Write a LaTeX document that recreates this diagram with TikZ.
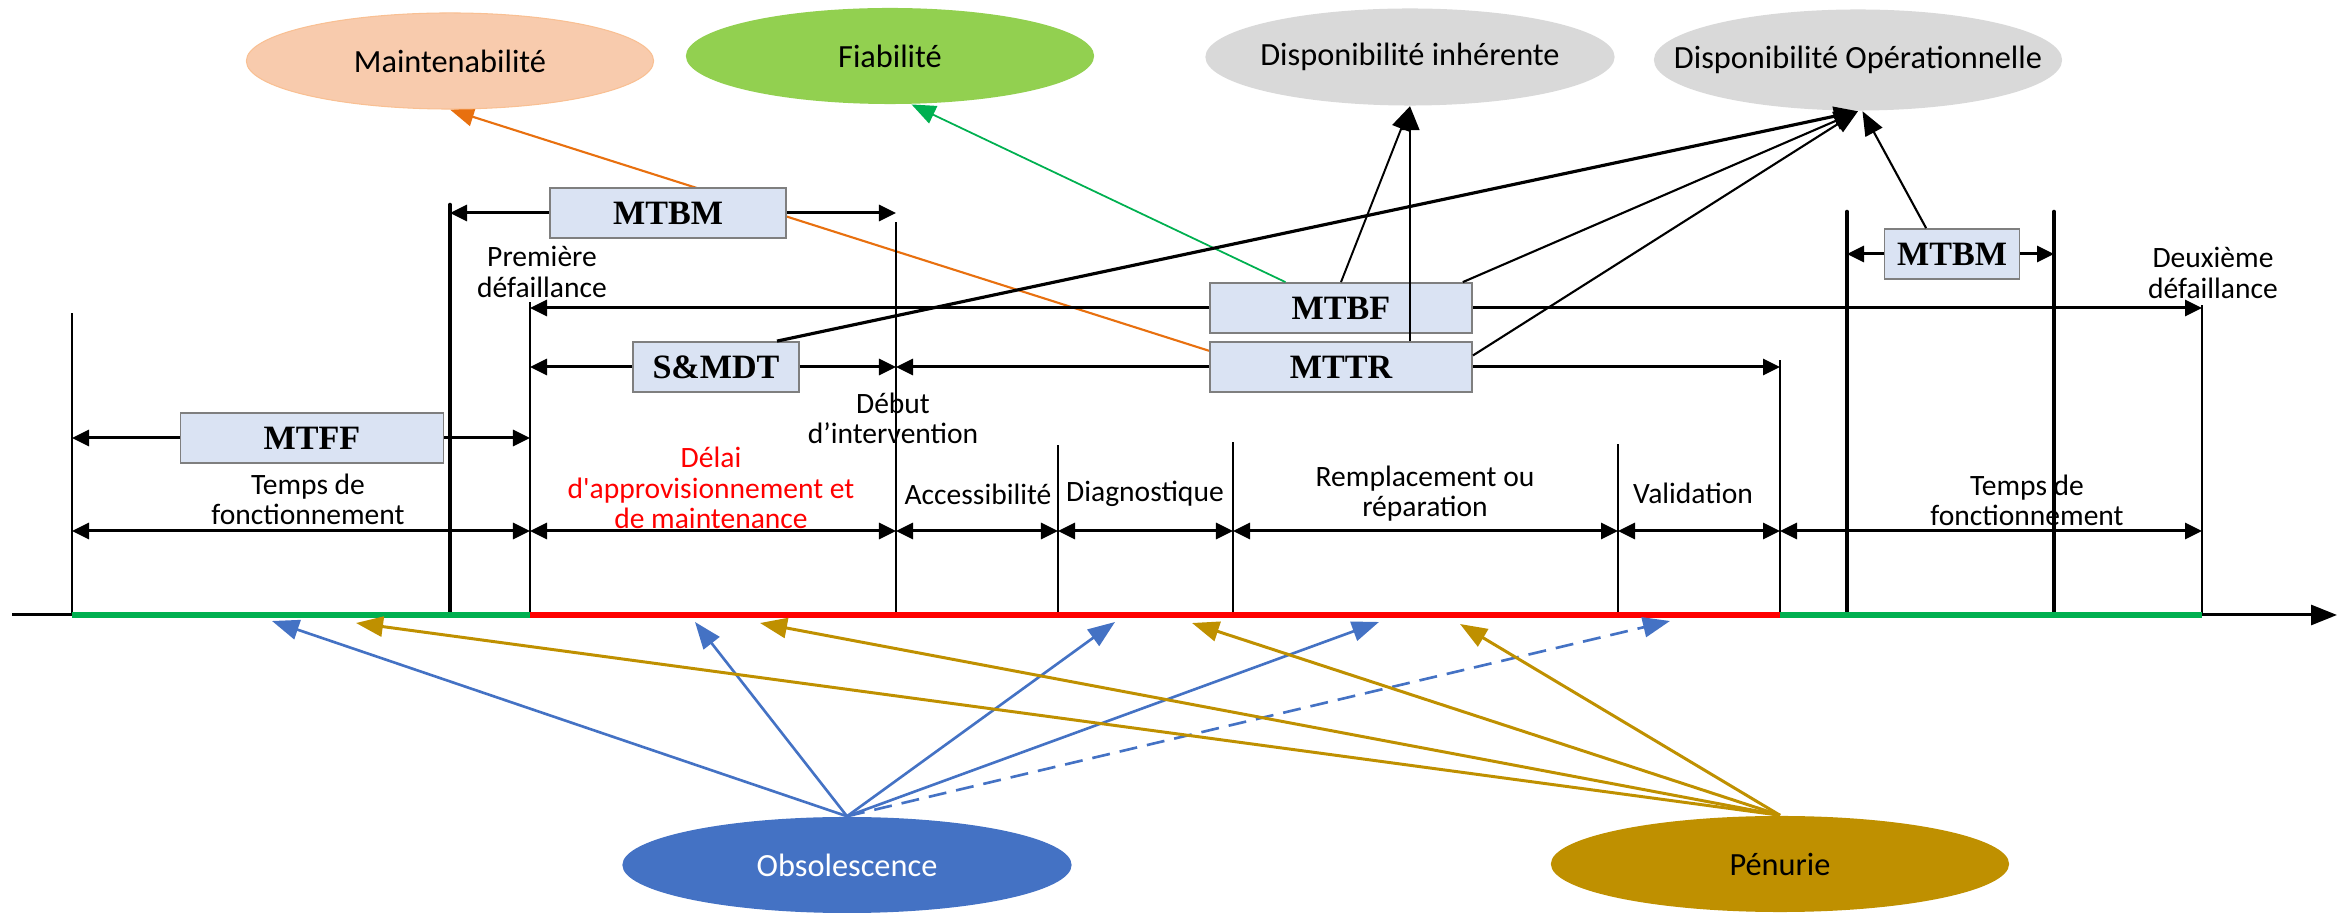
\documentclass[tikz,border=0pt]{standalone}
\usepackage{fontspec}
\setmainfont{Liberation Serif}
\newfontfamily\carlito{Carlito}
\usetikzlibrary{arrows.meta,shapes.geometric,backgrounds}

\definecolor{peach}{HTML}{F8CBAD}
\definecolor{leaf}{HTML}{92D050}
\definecolor{lgray}{HTML}{D9D9D9}
\definecolor{obsblue}{HTML}{4472C4}
\definecolor{gold}{HTML}{BF9000}
\definecolor{boxfill}{HTML}{DAE3F3}
\definecolor{boxline}{HTML}{7F7F7F}
\definecolor{rungreen}{HTML}{00B050}
\definecolor{maintorange}{HTML}{E8700F}

% ellipse text that does not widen its ellipse
\newcommand{\elltext}[1]{\makebox[0pt]{#1}}

\begin{document}
\begin{tikzpicture}[x=0.01cm,y=-0.01cm,
  ell/.style={ellipse, inner sep=0pt, font=\carlito\fontsize{9.2}{10}\selectfont},
  mbox/.style={draw=boxline, line width=0.5pt, fill=boxfill, inner sep=0pt,
    minimum height=0.5cm, font=\bfseries\fontsize{9.7}{11}\selectfont},
  lbl/.style={align=center, inner sep=0pt, font=\carlito\fontsize{8.4}{8.6}\selectfont},
  tk/.style={line width=0.55pt},
  tkthick/.style={line width=1.3pt, line cap=round},
  dim/.style={line width=0.85pt,
    {Triangle[length=0.17cm,width=0.16cm]}-{Triangle[length=0.17cm,width=0.16cm]}},
  half/.style={line width=0.85pt, -{Triangle[length=0.17cm,width=0.16cm]}},
  rel/.style={-{Triangle[length=0.24cm,width=0.19cm]}},
  cause/.style={line width=0.75pt, -{Triangle[length=0.27cm,width=0.2cm]}},
]
\useasboundingbox (0,0) rectangle (2341,913);

% indicator ellipses
\node[ell, fill=peach, draw=peach!85!orange, line width=0.3pt, minimum width=4.07cm, minimum height=0.96cm] (maint) at (450,61) {\elltext{Maintenabilité}};
\node[ell, fill=leaf, minimum width=4.08cm, minimum height=0.96cm] (fia) at (890,56) {\elltext{Fiabilité}};
\node[ell, fill=lgray, minimum width=4.09cm, minimum height=0.97cm] (dinh) at (1410,57) {\elltext{Disponibilité inhérente}};
\node[ell, fill=lgray, minimum width=4.08cm, minimum height=1.01cm] (dop) at (1858,60) {\elltext{Disponibilité Opérationnelle}};
\node[ell, fill=obsblue, text=white, minimum width=4.49cm, minimum height=0.96cm] (obs) at (847,865) {\elltext{Obsolescence}};
\node[ell, fill=gold, minimum width=4.58cm, minimum height=0.96cm] (pen) at (1780,864) {\elltext{Pénurie}};

% time axis
\coordinate (ax0) at (12,615);
\coordinate (ax1) at (2337,615);
\draw[line width=0.85pt, -{Triangle[length=0.26cm,width=0.2cm]}] (ax0) -- (ax1);

% event ticks
\foreach \n/\x/\t in {t0/72/313, t1/530/302, t2/896/222, t3/1058/445,
                      t4/1233/442, t5/1618/444, t6/1780/360, t7/2202/305} {
  \coordinate (\n) at (\x,615);
  \draw[tk] (\n) -- (\x,\t);
}
\foreach \n/\x in {p1/450, p2/1847, p3/2054} {
  \coordinate (\n) at (\x,612);
}
\draw[tkthick] (p1) -- (450,205);
\draw[tkthick] (p2) -- (1847,212);
\draw[tkthick] (p3) -- (2054,212);

% operating / down periods
\draw[line width=1.7pt, rungreen] (t0) -- (t1);
\draw[line width=1.7pt, red] (t1) -- (t6);
\draw[line width=1.7pt, rungreen] (t6) -- (t7);

% phase durations
\coordinate (rowB) at (0,531);
\foreach \a/\b in {t0/t1, t1/t2, t2/t3, t3/t4, t4/t5, t5/t6, t6/t7}
  \draw[dim] (\a |- rowB) -- (\b |- rowB);

% indicator boxes
\node[mbox, minimum width=2.36cm] (mtbmA) at (668,213) {MTBM};
\node[mbox, minimum width=2.62cm] (mtbf) at (1341,308) {MTBF};
\node[mbox, minimum width=1.66cm] (smdt) at (716,367) {S\&MDT};
\node[mbox, minimum width=2.62cm] (mttr) at (1341,367) {MTTR};
\node[mbox, minimum width=2.63cm] (mtff) at (312,438) {MTFF};
\node[mbox, minimum width=1.35cm] (mtbmB) at (1952,254) {MTBM};

% box spans
\draw[half] (mtbmA.west) -- (p1 |- mtbmA);
\draw[half] (mtbmA.east) -- (t2 |- mtbmA);
\draw[half] (mtbf.west) -- (t1 |- mtbf);
\draw[half] (mtbf.east) -- (t7 |- mtbf);
\draw[half] (smdt.west) -- (t1 |- smdt);
\draw[half] (smdt.east) -- (t2 |- smdt);
\draw[half] (mttr.west) -- (t2 |- mttr);
\draw[half] (mttr.east) -- (t6 |- mttr);
\draw[half] (mtff.west) -- (t0 |- mtff);
\draw[half] (mtff.east) -- (t1 |- mtff);
\draw[half] (mtbmB.west) -- (p2 |- mtbmB);
\draw[half] (mtbmB.east) -- (p3 |- mtbmB);

% text labels
\node[lbl] (lprem) at (542,272) {Première\\défaillance};
\node[lbl] (ldeux) at (2213,273) {Deuxième\\défaillance};
\node[lbl] (ldeb) at (893,418) {Début\\d’intervention};
\node[lbl] (ltfa) at (308,499) {Temps de\\fonctionnement};
\node[lbl, text=red] (ldelai) at (711,488) {Délai\\d'approvisionnement et\\de maintenance};
\node[lbl] (lacc) at (978,494) {Accessibilité};
\node[lbl] (ldiag) at (1145,494) {Diagnostique};
\node[lbl] (lrem) at (1425,494) {Remplacement ou\\réparation};
\node[lbl] (lval) at (1693,493) {Validation};
\node[lbl] (ltfb) at (2027,500) {Temps de\\fonctionnement};

% links from the indicators to the ellipses
\begin{scope}[on background layer]
  \draw[rel, line width=0.6pt, maintorange] (mttr.173.5) -- (maint.south);
\end{scope}
\draw[rel, line width=0.5pt, rungreen] (mtbf.155) -- (fia.-66);
\draw[rel, line width=0.55pt] (mtbf.north) -- (dinh.south);
\draw[rel, line width=0.45pt] (mttr.north -| dinh.south) -- (dinh.south);
\draw[rel, line width=0.9pt] (smdt.23) -- (dop.south);
\draw[rel, line width=0.6pt] (mtbf.12.5) -- (dop.south);
\draw[rel, line width=0.6pt] (mttr.5) -- (dop.south);
\draw[rel, line width=0.6pt] (mtbmB.135) -- (dop.-85);

% obsolescence and shortage effects on the timeline
\coordinate (b1) at (272,621);
\coordinate (b2) at (695,622);
\coordinate (b3) at (1115,622);
\coordinate (b4) at (1379,622);
\coordinate (b5) at (1670,621);
\coordinate (g1) at (356,623);
\coordinate (g2) at (760,623);
\coordinate (g3) at (1192,623);
\coordinate (g4) at (1460,624);
\foreach \c in {b1,b2,b3,b4}
  \draw[cause, obsblue] (obs.north) -- (\c);
\draw[cause, obsblue, dash pattern=on 0.18cm off 0.1cm] (obs.north) -- (b5);
\foreach \c in {g1,g2,g3,g4}
  \draw[cause, gold, line width=0.85pt] (pen.north) -- (\c);
\end{tikzpicture}
\end{document}
